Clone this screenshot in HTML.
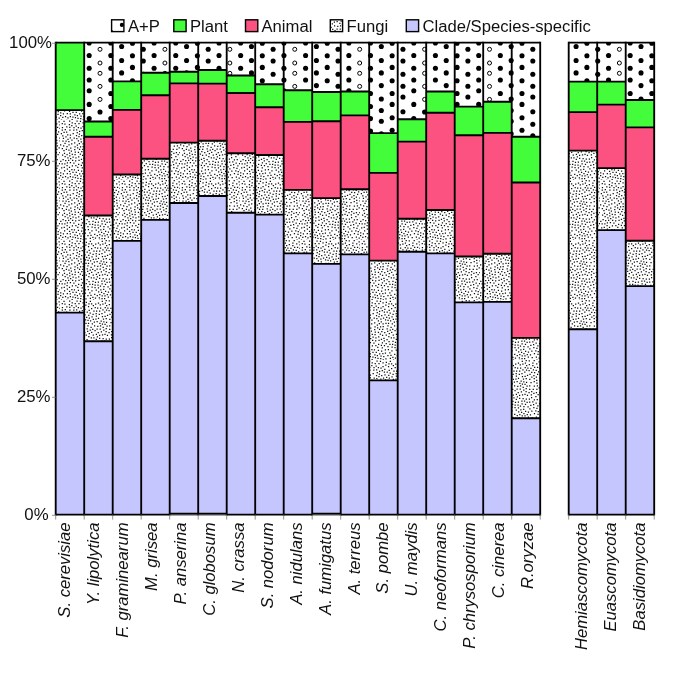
<!DOCTYPE html><html><head><meta charset="utf-8"><style>html,body{margin:0;padding:0;background:#fff;}svg{display:block;will-change:transform;}text{font-family:"Liberation Sans",sans-serif;}</style></head><body>
<svg width="685" height="685" viewBox="0 0 685 685">
<rect width="685" height="685" fill="#fff"/>
<defs>
<pattern id="stip" patternUnits="userSpaceOnUse" width="60" height="60"><rect width="60" height="60" fill="#fff"/><path d="M37.37 44.51h1.25v1.25h-1.25zM47.71 56.55h1.25v1.25h-1.25zM44.39 55.34h1.25v1.25h-1.25zM1.74 27.94h1.25v1.25h-1.25zM56.6 38.94h1.25v1.25h-1.25zM54.05 6.79h1.25v1.25h-1.25zM28.14 14.79h1.25v1.25h-1.25zM32.63 34.44h1.25v1.25h-1.25zM0.79 13h1.25v1.25h-1.25zM16.77 54.98h1.25v1.25h-1.25zM45.94 9.58h1.25v1.25h-1.25zM37.05 7.6h1.25v1.25h-1.25zM0.11 52.28h1.25v1.25h-1.25zM12.57 12.93h1.25v1.25h-1.25zM17.36 57.69h1.25v1.25h-1.25zM32.35 40.67h1.25v1.25h-1.25zM12.29 56.46h1.25v1.25h-1.25zM41.44 57.99h1.25v1.25h-1.25zM53.62 17.93h1.25v1.25h-1.25zM21.67 9.96h1.25v1.25h-1.25zM8.74 3.91h1.25v1.25h-1.25zM18.08 36.19h1.25v1.25h-1.25zM0.2 40.68h1.25v1.25h-1.25zM20.27 18.6h1.25v1.25h-1.25zM49.11 28.84h1.25v1.25h-1.25zM18.95 28.87h1.25v1.25h-1.25zM42.28 3.42h1.25v1.25h-1.25zM58.51 1.37h1.25v1.25h-1.25zM44.99 50.69h1.25v1.25h-1.25zM1.08 47.26h1.25v1.25h-1.25zM21.97 34.71h1.25v1.25h-1.25zM11.79 45.34h1.25v1.25h-1.25zM55.78 56.52h1.25v1.25h-1.25zM20.66 21.29h1.25v1.25h-1.25zM31.48 46.54h1.25v1.25h-1.25zM6.48 44.9h1.25v1.25h-1.25zM47.83 51.58h1.25v1.25h-1.25zM2.2 56.75h1.25v1.25h-1.25zM5.47 20.44h1.25v1.25h-1.25zM36.65 55.09h1.25v1.25h-1.25zM20.4 55.45h1.25v1.25h-1.25zM32.71 18.75h1.25v1.25h-1.25zM19.01 10.65h1.25v1.25h-1.25zM4.69 8.93h1.25v1.25h-1.25zM59.2 32.01h1.25v1.25h-1.25zM24.35 14.24h1.25v1.25h-1.25zM35.64 49.58h1.25v1.25h-1.25zM27.34 25.31h1.25v1.25h-1.25zM50.31 7.83h1.25v1.25h-1.25zM37.82 47.28h1.25v1.25h-1.25zM6.4 26.07h1.25v1.25h-1.25zM8.95 50.68h1.25v1.25h-1.25zM58.56 27.21h1.25v1.25h-1.25zM29.29 43.77h1.25v1.25h-1.25zM28.74 17.46h1.25v1.25h-1.25zM24.23 8.79h1.25v1.25h-1.25zM22.62 59.3h1.25v1.25h-1.25zM29.96 20.31h1.25v1.25h-1.25zM5.35 16.34h1.25v1.25h-1.25zM21.68 47.16h1.25v1.25h-1.25zM46.49 41.68h1.25v1.25h-1.25zM39.84 45.58h1.25v1.25h-1.25zM21.81 42.27h1.25v1.25h-1.25zM38.98 34.84h1.25v1.25h-1.25zM15.04 40.3h1.25v1.25h-1.25zM27.78 49h1.25v1.25h-1.25zM20.87 38.64h1.25v1.25h-1.25zM21 50.57h1.25v1.25h-1.25zM52.19 41.3h1.25v1.25h-1.25zM58.57 57.39h1.25v1.25h-1.25zM31.09 31.76h1.25v1.25h-1.25zM56.24 28.63h1.25v1.25h-1.25zM41.49 43.18h1.25v1.25h-1.25zM46.82 34.85h1.25v1.25h-1.25zM39.93 25.25h1.25v1.25h-1.25zM1.66 9.6h1.25v1.25h-1.25zM26.46 39.01h1.25v1.25h-1.25zM37.85 2.51h1.25v1.25h-1.25zM11.6 2.14h1.25v1.25h-1.25zM27.92 22.82h1.25v1.25h-1.25zM14.27 54.19h1.25v1.25h-1.25zM0.04 24.32h1.25v1.25h-1.25zM16.71 24.6h1.25v1.25h-1.25zM22.43 2.16h1.25v1.25h-1.25zM34.85 57.5h1.25v1.25h-1.25zM49.11 25.15h1.25v1.25h-1.25zM48.78 38.54h1.25v1.25h-1.25zM35.76 33.83h1.25v1.25h-1.25zM36.52 21.07h1.25v1.25h-1.25zM53.61 0.06h1.25v1.25h-1.25zM6.48 33.95h1.25v1.25h-1.25zM22.55 25.9h1.25v1.25h-1.25zM13.58 17.49h1.25v1.25h-1.25zM35.75 15.59h1.25v1.25h-1.25zM24.93 19.15h1.25v1.25h-1.25zM7.31 37.3h1.25v1.25h-1.25zM46.91 14.74h1.25v1.25h-1.25zM16.06 9.29h1.25v1.25h-1.25zM59.33 17.59h1.25v1.25h-1.25zM36.48 28.48h1.25v1.25h-1.25zM44.61 7.09h1.25v1.25h-1.25zM45.62 18.04h1.25v1.25h-1.25zM17.81 31.79h1.25v1.25h-1.25zM2.19 15.15h1.25v1.25h-1.25zM27.34 54.99h1.25v1.25h-1.25zM53.28 32.74h1.25v1.25h-1.25zM25.66 34.54h1.25v1.25h-1.25zM42.49 37.93h1.25v1.25h-1.25zM51.11 11.79h1.25v1.25h-1.25zM17.79 49.8h1.25v1.25h-1.25zM3.96 50.18h1.25v1.25h-1.25zM17.18 46.84h1.25v1.25h-1.25zM28.7 32.95h1.25v1.25h-1.25zM9.21 35.15h1.25v1.25h-1.25zM48.71 4.11h1.25v1.25h-1.25zM13.8 49.18h1.25v1.25h-1.25zM1.53 43.36h1.25v1.25h-1.25zM38.74 57.13h1.25v1.25h-1.25zM4.32 3.45h1.25v1.25h-1.25zM34.52 44.54h1.25v1.25h-1.25zM56.31 22.45h1.25v1.25h-1.25zM30.35 54.63h1.25v1.25h-1.25zM33.29 37.25h1.25v1.25h-1.25zM15.25 45.03h1.25v1.25h-1.25zM31.02 8.03h1.25v1.25h-1.25zM14.07 22.27h1.25v1.25h-1.25zM5.11 40.08h1.25v1.25h-1.25zM52.62 28.83h1.25v1.25h-1.25zM13.39 6.96h1.25v1.25h-1.25zM51.09 31.05h1.25v1.25h-1.25zM44.41 23.73h1.25v1.25h-1.25zM45.62 0.03h1.25v1.25h-1.25zM37.17 25.72h1.25v1.25h-1.25zM27.93 5.98h1.25v1.25h-1.25zM9.28 9.54h1.25v1.25h-1.25zM22.48 23.14h1.25v1.25h-1.25zM52.82 9.13h1.25v1.25h-1.25zM9.69 17.22h1.25v1.25h-1.25zM14.11 28.92h1.25v1.25h-1.25zM41.26 40.43h1.25v1.25h-1.25zM9.8 14.43h1.25v1.25h-1.25zM3.65 46.76h1.25v1.25h-1.25zM32.9 59.38h1.25v1.25h-1.25zM56.14 3.23h1.25v1.25h-1.25zM14.61 3.03h1.25v1.25h-1.25zM18.36 3.08h1.25v1.25h-1.25zM10.76 30.52h1.25v1.25h-1.25zM24.14 31.88h1.25v1.25h-1.25zM55.28 35.9h1.25v1.25h-1.25zM49.17 18.77h1.25v1.25h-1.25zM22.43 5.91h1.25v1.25h-1.25zM53.77 39.25h1.25v1.25h-1.25zM1.65 3.04h1.25v1.25h-1.25zM51.59 56.95h1.25v1.25h-1.25zM19.82 0.75h1.25v1.25h-1.25zM42.57 26.77h1.25v1.25h-1.25zM56.31 47.69h1.25v1.25h-1.25zM1.97 34.62h1.25v1.25h-1.25zM16.62 12.07h1.25v1.25h-1.25zM33.75 21.42h1.25v1.25h-1.25zM21.11 14.89h1.25v1.25h-1.25zM50.99 37.09h1.25v1.25h-1.25zM54.01 11.96h1.25v1.25h-1.25zM40.97 51.79h1.25v1.25h-1.25zM11.08 23.35h1.25v1.25h-1.25zM18.72 22.97h1.25v1.25h-1.25zM40.77 31.33h1.25v1.25h-1.25zM42.87 18.41h1.25v1.25h-1.25zM55.75 16.48h1.25v1.25h-1.25zM57.41 53.83h1.25v1.25h-1.25zM39.19 53.97h1.25v1.25h-1.25zM18.33 16.06h1.25v1.25h-1.25zM10.05 37.97h1.25v1.25h-1.25zM57.99 11.23h1.25v1.25h-1.25zM1.83 6.94h1.25v1.25h-1.25zM35.67 38.78h1.25v1.25h-1.25zM6.05 11.61h1.25v1.25h-1.25zM6.2 6.17h1.25v1.25h-1.25zM29.73 57.76h1.25v1.25h-1.25zM17.76 7.01h1.25v1.25h-1.25zM22.93 17.44h1.25v1.25h-1.25zM17.76 20.22h1.25v1.25h-1.25zM3.02 25.25h1.25v1.25h-1.25zM5.76 28.65h1.25v1.25h-1.25zM23.18 56.03h1.25v1.25h-1.25zM48.65 0.31h1.25v1.25h-1.25zM45.95 21.66h1.25v1.25h-1.25zM31.01 3.19h1.25v1.25h-1.25zM26.56 28.31h1.25v1.25h-1.25zM24.8 52.45h1.25v1.25h-1.25zM8.89 46.86h1.25v1.25h-1.25zM25.33 58.33h1.25v1.25h-1.25zM39.99 7.4h1.25v1.25h-1.25zM10.15 27.46h1.25v1.25h-1.25zM4.43 22.87h1.25v1.25h-1.25zM53.84 53.12h1.25v1.25h-1.25zM22.12 28.66h1.25v1.25h-1.25zM14.45 34.12h1.25v1.25h-1.25zM3.36 30.03h1.25v1.25h-1.25zM31.72 23.32h1.25v1.25h-1.25zM8.28 21.06h1.25v1.25h-1.25zM44.47 15.73h1.25v1.25h-1.25zM23.32 37.73h1.25v1.25h-1.25zM44.38 33.67h1.25v1.25h-1.25zM52.28 2.39h1.25v1.25h-1.25zM56.94 6.66h1.25v1.25h-1.25zM45.49 30.95h1.25v1.25h-1.25zM39.04 10.49h1.25v1.25h-1.25zM8.33 29.47h1.25v1.25h-1.25zM34.44 30.01h1.25v1.25h-1.25zM6.16 59.85h1.25v1.25h-1.25zM9.79 41.92h1.25v1.25h-1.25zM40.55 20.39h1.25v1.25h-1.25zM47.45 46.29h1.25v1.25h-1.25zM32.11 28.72h1.25v1.25h-1.25zM38.68 13.74h1.25v1.25h-1.25zM16.43 0.61h1.25v1.25h-1.25zM3.41 0.87h1.25v1.25h-1.25zM18 43.73h1.25v1.25h-1.25zM41.35 13.02h1.25v1.25h-1.25zM27.34 46.06h1.25v1.25h-1.25zM26.6 11.45h1.25v1.25h-1.25zM50.42 21.94h1.25v1.25h-1.25zM9.03 0.41h1.25v1.25h-1.25zM49.37 13.78h1.25v1.25h-1.25zM50.75 34.18h1.25v1.25h-1.25zM51.2 50.5h1.25v1.25h-1.25zM6.68 53.12h1.25v1.25h-1.25zM44.85 43.63h1.25v1.25h-1.25zM15.32 37.17h1.25v1.25h-1.25zM9.74 56.05h1.25v1.25h-1.25zM11.51 59.06h1.25v1.25h-1.25zM55.22 50.14h1.25v1.25h-1.25zM43.19 29.46h1.25v1.25h-1.25zM50.22 44.66h1.25v1.25h-1.25zM38.06 51.3h1.25v1.25h-1.25zM29.23 52.29h1.25v1.25h-1.25zM37.75 41.45h1.25v1.25h-1.25zM31.32 50.33h1.25v1.25h-1.25zM28.22 36.06h1.25v1.25h-1.25zM55.53 42.47h1.25v1.25h-1.25zM43.33 45.92h1.25v1.25h-1.25zM29.61 29.61h1.25v1.25h-1.25zM34.1 53.78h1.25v1.25h-1.25zM31.43 16.14h1.25v1.25h-1.25zM53.71 25.46h1.25v1.25h-1.25zM59.82 37.28h1.25v1.25h-1.25zM29.57 12.57h1.25v1.25h-1.25zM2.76 53.33h1.25v1.25h-1.25zM7.35 57.33h1.25v1.25h-1.25zM34.57 6.88h1.25v1.25h-1.25zM39.06 37.68h1.25v1.25h-1.25zM48.44 31.99h1.25v1.25h-1.25zM56.11 19.69h1.25v1.25h-1.25zM59.43 20.35h1.25v1.25h-1.25zM28.44 41.04h1.25v1.25h-1.25zM25.74 1.87h1.25v1.25h-1.25zM36.17 59.96h1.25v1.25h-1.25zM18.45 39.85h1.25v1.25h-1.25zM25.37 22.79h1.25v1.25h-1.25zM33.33 10.59h1.25v1.25h-1.25zM42.32 9.18h1.25v1.25h-1.25zM40.24 49.18h1.25v1.25h-1.25zM53.3 14.93h1.25v1.25h-1.25zM41.84 15.92h1.25v1.25h-1.25zM53.21 46.93h1.25v1.25h-1.25zM57 13.85h1.25v1.25h-1.25zM35.1 3.39h1.25v1.25h-1.25zM15.89 15.05h1.25v1.25h-1.25zM9.13 6.83h1.25v1.25h-1.25zM24.75 49.23h1.25v1.25h-1.25zM32.47 13.69h1.25v1.25h-1.25zM23.83 44.93h1.25v1.25h-1.25zM12.35 51.8h1.25v1.25h-1.25zM33.97 25.18h1.25v1.25h-1.25zM45.64 38.5h1.25v1.25h-1.25zM29.72 0.67h1.25v1.25h-1.25zM37.86 17.63h1.25v1.25h-1.25zM39.61 28.5h1.25v1.25h-1.25zM28.61 9.84h1.25v1.25h-1.25zM57.26 45.29h1.25v1.25h-1.25zM14.45 26.29h1.25v1.25h-1.25zM52.99 44.04h1.25v1.25h-1.25zM30.72 37.13h1.25v1.25h-1.25zM6.74 48.62h1.25v1.25h-1.25zM56.81 25.18h1.25v1.25h-1.25zM25.64 43.05h1.25v1.25h-1.25zM7.37 18.64h1.25v1.25h-1.25zM59.37 4.24h1.25v1.25h-1.25zM39.14 59.78h1.25v1.25h-1.25zM2.34 20.45h1.25v1.25h-1.25zM15.64 51.69h1.25v1.25h-1.25zM39.26 22.63h1.25v1.25h-1.25zM11.24 49.05h1.25v1.25h-1.25zM44.77 2.55h1.25v1.25h-1.25zM55.58 9.65h1.25v1.25h-1.25zM45.58 28.05h1.25v1.25h-1.25zM36 10.45h1.25v1.25h-1.25zM37.62 32.02h1.25v1.25h-1.25zM49.24 48.37h1.25v1.25h-1.25zM14.67 31.58h1.25v1.25h-1.25zM8.99 32.47h1.25v1.25h-1.25zM11.3 19.61h1.25v1.25h-1.25zM59.51 49.28h1.25v1.25h-1.25zM30.48 26.67h1.25v1.25h-1.25zM13.21 9.51h1.25v1.25h-1.25zM48.48 9.92h1.25v1.25h-1.25zM39.65 4.36h1.25v1.25h-1.25zM12.04 39.7h1.25v1.25h-1.25zM49.84 54.24h1.25v1.25h-1.25zM55.81 31.91h1.25v1.25h-1.25zM4.52 35.9h1.25v1.25h-1.25zM27.07 30.87h1.25v1.25h-1.25zM51.21 16.55h1.25v1.25h-1.25zM25.23 4.48h1.25v1.25h-1.25zM56.41 59.5h1.25v1.25h-1.25zM44.18 11.46h1.25v1.25h-1.25zM11.66 33.75h1.25v1.25h-1.25zM13.29 42.51h1.25v1.25h-1.25zM52.23 4.95h1.25v1.25h-1.25zM8.04 39.83h1.25v1.25h-1.25zM13.94 59.91h1.25v1.25h-1.25zM4.92 55.95h1.25v1.25h-1.25zM46.06 4.88h1.25v1.25h-1.25zM11.21 4.93h1.25v1.25h-1.25zM47.25 7.38h1.25v1.25h-1.25zM19.04 53.26h1.25v1.25h-1.25zM43.24 21.35h1.25v1.25h-1.25zM43.07 48.7h1.25v1.25h-1.25zM53.62 21h1.25v1.25h-1.25zM19.95 26.14h1.25v1.25h-1.25zM8.43 24.29h1.25v1.25h-1.25zM35.32 18.45h1.25v1.25h-1.25zM23.69 40.35h1.25v1.25h-1.25zM34.86 41.83h1.25v1.25h-1.25zM4.24 43.37h1.25v1.25h-1.25zM0.02 54.91h1.25v1.25h-1.25zM57.5 33.97h1.25v1.25h-1.25zM21.19 31.04h1.25v1.25h-1.25zM34.42 47.11h1.25v1.25h-1.25zM41.68 0.81h1.25v1.25h-1.25zM9.67 53.24h1.25v1.25h-1.25zM43.93 40.55h1.25v1.25h-1.25zM41.59 55.32h1.25v1.25h-1.25zM20.77 44.76h1.25v1.25h-1.25zM3.47 11.79h1.25v1.25h-1.25zM44 57.94h1.25v1.25h-1.25zM49.07 41.5h1.25v1.25h-1.25zM2.5 39.09h1.25v1.25h-1.25zM41.91 34.33h1.25v1.25h-1.25zM12.46 36.42h1.25v1.25h-1.25zM32.26 56.87h1.25v1.25h-1.25zM19.71 33.52h1.25v1.25h-1.25zM0.87 59.58h1.25v1.25h-1.25zM32.74 5.07h1.25v1.25h-1.25zM23.76 11.44h1.25v1.25h-1.25zM59.39 7.82h1.25v1.25h-1.25zM20.14 58.11h1.25v1.25h-1.25zM3.89 32.73h1.25v1.25h-1.25zM2.82 17.67h1.25v1.25h-1.25zM46.48 25.53h1.25v1.25h-1.25zM22.23 52.97h1.25v1.25h-1.25zM26.07 16.68h1.25v1.25h-1.25zM7.1 14.37h1.25v1.25h-1.25zM43.35 52.94h1.25v1.25h-1.25zM16.22 18.1h1.25v1.25h-1.25zM28.34 3.18h1.25v1.25h-1.25zM36.76 36.32h1.25v1.25h-1.25zM35.56 12.99h1.25v1.25h-1.25zM41.82 23.52h1.25v1.25h-1.25zM27.42 19.83h1.25v1.25h-1.25zM57.64 51.06h1.25v1.25h-1.25zM14.82 57.06h1.25v1.25h-1.25zM6.77 42.33h1.25v1.25h-1.25zM15.59 5.6h1.25v1.25h-1.25zM20.38 7.53h1.25v1.25h-1.25zM32.03 43.73h1.25v1.25h-1.25zM46.66 53.97h1.25v1.25h-1.25zM17.02 27.19h1.25v1.25h-1.25zM18.81 13.48h1.25v1.25h-1.25zM58.94 43h1.25v1.25h-1.25z" fill="#111"/></pattern>
<clipPath id="apc"><rect x="84.2" y="42.6" width="28.5" height="78.9"/><rect x="112.7" y="42.6" width="28.5" height="38.8"/><rect x="141.2" y="42.6" width="28.5" height="30.1"/><rect x="169.7" y="42.6" width="28.5" height="29.2"/><rect x="198.2" y="42.6" width="28.5" height="27.4"/><rect x="226.7" y="42.6" width="28.5" height="32.9"/><rect x="255.2" y="42.6" width="28.5" height="41.7"/><rect x="283.7" y="42.6" width="28.5" height="47.6"/><rect x="312.2" y="42.6" width="28.5" height="49.4"/><rect x="340.7" y="42.6" width="28.5" height="48.9"/><rect x="369.2" y="42.6" width="28.5" height="90.5"/><rect x="397.7" y="42.6" width="28.5" height="76.7"/><rect x="426.2" y="42.6" width="28.5" height="48.9"/><rect x="454.7" y="42.6" width="28.5" height="64"/><rect x="483.2" y="42.6" width="28.5" height="59.2"/><rect x="511.7" y="42.6" width="28.5" height="94.2"/><rect x="568.7" y="42.6" width="28.5" height="39"/><rect x="597.2" y="42.6" width="28.5" height="39"/><rect x="625.7" y="42.6" width="28.5" height="57.4"/></clipPath>
</defs>
<rect x="55.7" y="42.6" width="28.5" height="67.5" fill="#43fd3a"/>
<rect x="55.7" y="110.1" width="28.5" height="202.5" fill="url(#stip)"/>
<rect x="55.7" y="312.6" width="28.5" height="202" fill="#c6c6fe"/>
<rect x="84.2" y="42.6" width="28.5" height="78.9" fill="#fff"/>
<rect x="84.2" y="121.5" width="28.5" height="15.3" fill="#43fd3a"/>
<rect x="84.2" y="136.8" width="28.5" height="78.7" fill="#fc5282"/>
<rect x="84.2" y="215.5" width="28.5" height="125.7" fill="url(#stip)"/>
<rect x="84.2" y="341.2" width="28.5" height="173.4" fill="#c6c6fe"/>
<rect x="112.7" y="42.6" width="28.5" height="38.8" fill="#fff"/>
<rect x="112.7" y="81.4" width="28.5" height="28.5" fill="#43fd3a"/>
<rect x="112.7" y="109.9" width="28.5" height="64.6" fill="#fc5282"/>
<rect x="112.7" y="174.5" width="28.5" height="66.4" fill="url(#stip)"/>
<rect x="112.7" y="240.9" width="28.5" height="273.7" fill="#c6c6fe"/>
<rect x="141.2" y="42.6" width="28.5" height="30.1" fill="#fff"/>
<rect x="141.2" y="72.7" width="28.5" height="22.5" fill="#43fd3a"/>
<rect x="141.2" y="95.2" width="28.5" height="63.5" fill="#fc5282"/>
<rect x="141.2" y="158.7" width="28.5" height="61.2" fill="url(#stip)"/>
<rect x="141.2" y="219.9" width="28.5" height="294.7" fill="#c6c6fe"/>
<rect x="169.7" y="42.6" width="28.5" height="29.2" fill="#fff"/>
<rect x="169.7" y="71.8" width="28.5" height="11.6" fill="#43fd3a"/>
<rect x="169.7" y="83.4" width="28.5" height="59.2" fill="#fc5282"/>
<rect x="169.7" y="142.6" width="28.5" height="60.4" fill="url(#stip)"/>
<rect x="169.7" y="203" width="28.5" height="310.7" fill="#c6c6fe"/>
<rect x="198.2" y="42.6" width="28.5" height="27.4" fill="#fff"/>
<rect x="198.2" y="70" width="28.5" height="13.6" fill="#43fd3a"/>
<rect x="198.2" y="83.6" width="28.5" height="57.2" fill="#fc5282"/>
<rect x="198.2" y="140.8" width="28.5" height="55.2" fill="url(#stip)"/>
<rect x="198.2" y="196" width="28.5" height="317.7" fill="#c6c6fe"/>
<rect x="226.7" y="42.6" width="28.5" height="32.9" fill="#fff"/>
<rect x="226.7" y="75.5" width="28.5" height="17.5" fill="#43fd3a"/>
<rect x="226.7" y="93" width="28.5" height="60.2" fill="#fc5282"/>
<rect x="226.7" y="153.2" width="28.5" height="59.6" fill="url(#stip)"/>
<rect x="226.7" y="212.8" width="28.5" height="301.8" fill="#c6c6fe"/>
<rect x="255.2" y="42.6" width="28.5" height="41.7" fill="#fff"/>
<rect x="255.2" y="84.3" width="28.5" height="23" fill="#43fd3a"/>
<rect x="255.2" y="107.3" width="28.5" height="47.7" fill="#fc5282"/>
<rect x="255.2" y="155" width="28.5" height="59.6" fill="url(#stip)"/>
<rect x="255.2" y="214.6" width="28.5" height="300" fill="#c6c6fe"/>
<rect x="283.7" y="42.6" width="28.5" height="47.6" fill="#fff"/>
<rect x="283.7" y="90.2" width="28.5" height="31.7" fill="#43fd3a"/>
<rect x="283.7" y="121.9" width="28.5" height="68" fill="#fc5282"/>
<rect x="283.7" y="189.9" width="28.5" height="63.5" fill="url(#stip)"/>
<rect x="283.7" y="253.4" width="28.5" height="261.2" fill="#c6c6fe"/>
<rect x="312.2" y="42.6" width="28.5" height="49.4" fill="#fff"/>
<rect x="312.2" y="92" width="28.5" height="29.2" fill="#43fd3a"/>
<rect x="312.2" y="121.2" width="28.5" height="76.9" fill="#fc5282"/>
<rect x="312.2" y="198.1" width="28.5" height="65.8" fill="url(#stip)"/>
<rect x="312.2" y="263.9" width="28.5" height="249.8" fill="#c6c6fe"/>
<rect x="340.7" y="42.6" width="28.5" height="48.9" fill="#fff"/>
<rect x="340.7" y="91.5" width="28.5" height="23.9" fill="#43fd3a"/>
<rect x="340.7" y="115.4" width="28.5" height="73.8" fill="#fc5282"/>
<rect x="340.7" y="189.2" width="28.5" height="65.2" fill="url(#stip)"/>
<rect x="340.7" y="254.4" width="28.5" height="260.2" fill="#c6c6fe"/>
<rect x="369.2" y="42.6" width="28.5" height="90.5" fill="#fff"/>
<rect x="369.2" y="133.1" width="28.5" height="39.8" fill="#43fd3a"/>
<rect x="369.2" y="172.9" width="28.5" height="87.7" fill="#fc5282"/>
<rect x="369.2" y="260.6" width="28.5" height="119.8" fill="url(#stip)"/>
<rect x="369.2" y="380.4" width="28.5" height="134.2" fill="#c6c6fe"/>
<rect x="397.7" y="42.6" width="28.5" height="76.7" fill="#fff"/>
<rect x="397.7" y="119.3" width="28.5" height="22.3" fill="#43fd3a"/>
<rect x="397.7" y="141.6" width="28.5" height="77.2" fill="#fc5282"/>
<rect x="397.7" y="218.8" width="28.5" height="33" fill="url(#stip)"/>
<rect x="397.7" y="251.8" width="28.5" height="262.8" fill="#c6c6fe"/>
<rect x="426.2" y="42.6" width="28.5" height="48.9" fill="#fff"/>
<rect x="426.2" y="91.5" width="28.5" height="21.2" fill="#43fd3a"/>
<rect x="426.2" y="112.7" width="28.5" height="97.3" fill="#fc5282"/>
<rect x="426.2" y="210" width="28.5" height="43.4" fill="url(#stip)"/>
<rect x="426.2" y="253.4" width="28.5" height="261.2" fill="#c6c6fe"/>
<rect x="454.7" y="42.6" width="28.5" height="64" fill="#fff"/>
<rect x="454.7" y="106.6" width="28.5" height="28.7" fill="#43fd3a"/>
<rect x="454.7" y="135.3" width="28.5" height="121.2" fill="#fc5282"/>
<rect x="454.7" y="256.5" width="28.5" height="45.9" fill="url(#stip)"/>
<rect x="454.7" y="302.4" width="28.5" height="212.2" fill="#c6c6fe"/>
<rect x="483.2" y="42.6" width="28.5" height="59.2" fill="#fff"/>
<rect x="483.2" y="101.8" width="28.5" height="31.1" fill="#43fd3a"/>
<rect x="483.2" y="132.9" width="28.5" height="120.8" fill="#fc5282"/>
<rect x="483.2" y="253.7" width="28.5" height="48.2" fill="url(#stip)"/>
<rect x="483.2" y="301.9" width="28.5" height="212.7" fill="#c6c6fe"/>
<rect x="511.7" y="42.6" width="28.5" height="94.2" fill="#fff"/>
<rect x="511.7" y="136.8" width="28.5" height="45.7" fill="#43fd3a"/>
<rect x="511.7" y="182.5" width="28.5" height="155.4" fill="#fc5282"/>
<rect x="511.7" y="337.9" width="28.5" height="80.3" fill="url(#stip)"/>
<rect x="511.7" y="418.2" width="28.5" height="96.4" fill="#c6c6fe"/>
<rect x="568.7" y="42.6" width="28.5" height="39" fill="#fff"/>
<rect x="568.7" y="81.6" width="28.5" height="30.5" fill="#43fd3a"/>
<rect x="568.7" y="112.1" width="28.5" height="38.5" fill="#fc5282"/>
<rect x="568.7" y="150.6" width="28.5" height="178.7" fill="url(#stip)"/>
<rect x="568.7" y="329.3" width="28.5" height="185.3" fill="#c6c6fe"/>
<rect x="597.2" y="42.6" width="28.5" height="39" fill="#fff"/>
<rect x="597.2" y="81.6" width="28.5" height="23" fill="#43fd3a"/>
<rect x="597.2" y="104.6" width="28.5" height="63.5" fill="#fc5282"/>
<rect x="597.2" y="168.1" width="28.5" height="62" fill="url(#stip)"/>
<rect x="597.2" y="230.1" width="28.5" height="284.5" fill="#c6c6fe"/>
<rect x="625.7" y="42.6" width="28.5" height="57.4" fill="#fff"/>
<rect x="625.7" y="100" width="28.5" height="27.4" fill="#43fd3a"/>
<rect x="625.7" y="127.4" width="28.5" height="113.3" fill="#fc5282"/>
<rect x="625.7" y="240.7" width="28.5" height="45.4" fill="url(#stip)"/>
<rect x="625.7" y="286.1" width="28.5" height="228.5" fill="#c6c6fe"/>
<g clip-path="url(#apc)"><circle cx="56.72" cy="34" r="2.55"/><circle cx="56.72" cy="46.5" r="2.55"/><circle cx="56.72" cy="60.5" r="2.55"/><circle cx="56.72" cy="72.9" r="2.55"/><circle cx="56.72" cy="85.6" r="2.55"/><circle cx="56.72" cy="99" r="2.55"/><circle cx="56.72" cy="110.5" r="2.55"/><circle cx="56.72" cy="121.3" r="2.55"/><circle cx="56.72" cy="133.8" r="2.55"/><circle cx="67.54" cy="43.2" r="2.55"/><circle cx="67.54" cy="55.7" r="2.55"/><circle cx="67.54" cy="67.4" r="2.55"/><circle cx="67.54" cy="80.8" r="2.55"/><circle cx="67.54" cy="93.5" r="2.55"/><circle cx="67.54" cy="104.4" r="2.55"/><circle cx="67.54" cy="117.7" r="2.55"/><circle cx="67.54" cy="130.2" r="2.55"/><circle cx="67.54" cy="142.6" r="2.55"/><circle cx="78.36" cy="36.7" r="2.55"/><circle cx="78.36" cy="49.2" r="2.55"/><circle cx="78.36" cy="61" r="2.55"/><circle cx="78.36" cy="74.3" r="2.55"/><circle cx="78.36" cy="86.2" r="2.55"/><circle cx="78.36" cy="97" r="2.55"/><circle cx="78.36" cy="111.7" r="2.55"/><circle cx="78.36" cy="124.3" r="2.55"/><circle cx="78.36" cy="135.7" r="2.55"/><circle cx="89.18" cy="43" r="2.55"/><circle cx="89.18" cy="55.5" r="2.55"/><circle cx="89.18" cy="68.3" r="2.55"/><circle cx="89.18" cy="80" r="2.55"/><circle cx="89.18" cy="90.8" r="2.55"/><circle cx="89.18" cy="104.4" r="2.55"/><circle cx="89.18" cy="118.6" r="2.55"/><circle cx="89.18" cy="131" r="2.55"/><circle cx="89.18" cy="143.5" r="2.55"/><circle cx="100" cy="36.8" r="2.55"/><circle cx="100" cy="49.3" r="2.0" fill="#fff" stroke="#000" stroke-width="1.0"/><circle cx="100" cy="63" r="2.0" fill="#fff" stroke="#000" stroke-width="1.0"/><circle cx="100" cy="73.3" r="2.0" fill="#fff" stroke="#000" stroke-width="1.0"/><circle cx="100" cy="86.4" r="2.0" fill="#fff" stroke="#000" stroke-width="1.0"/><circle cx="100" cy="99.4" r="2.0" fill="#fff" stroke="#000" stroke-width="1.0"/><circle cx="100" cy="112" r="2.55"/><circle cx="100" cy="124.5" r="2.55"/><circle cx="100" cy="137" r="2.55"/><circle cx="110.82" cy="43" r="2.55"/><circle cx="110.82" cy="55.5" r="2.55"/><circle cx="110.82" cy="68.3" r="2.55"/><circle cx="110.82" cy="80" r="2.55"/><circle cx="110.82" cy="93.5" r="2.55"/><circle cx="110.82" cy="106.5" r="2.55"/><circle cx="110.82" cy="118.6" r="2.55"/><circle cx="110.82" cy="131" r="2.55"/><circle cx="110.82" cy="143.5" r="2.55"/><circle cx="121.64" cy="34" r="2.55"/><circle cx="121.64" cy="46.5" r="2.55"/><circle cx="121.64" cy="60.5" r="2.55"/><circle cx="121.64" cy="72.9" r="2.55"/><circle cx="121.64" cy="85.6" r="2.55"/><circle cx="121.64" cy="99" r="2.55"/><circle cx="121.64" cy="110.5" r="2.55"/><circle cx="121.64" cy="121.3" r="2.55"/><circle cx="121.64" cy="133.8" r="2.55"/><circle cx="132.46" cy="43.2" r="2.55"/><circle cx="132.46" cy="55.7" r="2.55"/><circle cx="132.46" cy="67.4" r="2.55"/><circle cx="132.46" cy="80.8" r="2.55"/><circle cx="132.46" cy="93.5" r="2.55"/><circle cx="132.46" cy="104.4" r="2.55"/><circle cx="132.46" cy="117.7" r="2.55"/><circle cx="132.46" cy="130.2" r="2.55"/><circle cx="132.46" cy="142.6" r="2.55"/><circle cx="143.28" cy="36.7" r="2.55"/><circle cx="143.28" cy="49.2" r="2.55"/><circle cx="143.28" cy="61" r="2.55"/><circle cx="143.28" cy="74.3" r="2.55"/><circle cx="143.28" cy="86.2" r="2.55"/><circle cx="143.28" cy="97" r="2.55"/><circle cx="143.28" cy="111.7" r="2.55"/><circle cx="143.28" cy="124.3" r="2.55"/><circle cx="143.28" cy="135.7" r="2.55"/><circle cx="154.1" cy="43" r="2.55"/><circle cx="154.1" cy="55.5" r="2.55"/><circle cx="154.1" cy="68.3" r="2.55"/><circle cx="154.1" cy="80" r="2.55"/><circle cx="154.1" cy="90.8" r="2.55"/><circle cx="154.1" cy="104.4" r="2.55"/><circle cx="154.1" cy="118.6" r="2.55"/><circle cx="154.1" cy="131" r="2.55"/><circle cx="154.1" cy="143.5" r="2.55"/><circle cx="164.92" cy="36.8" r="2.55"/><circle cx="164.92" cy="49.3" r="2.0" fill="#fff" stroke="#000" stroke-width="1.0"/><circle cx="164.92" cy="63" r="2.0" fill="#fff" stroke="#000" stroke-width="1.0"/><circle cx="164.92" cy="73.3" r="2.0" fill="#fff" stroke="#000" stroke-width="1.0"/><circle cx="164.92" cy="86.4" r="2.0" fill="#fff" stroke="#000" stroke-width="1.0"/><circle cx="164.92" cy="99.4" r="2.0" fill="#fff" stroke="#000" stroke-width="1.0"/><circle cx="164.92" cy="112" r="2.55"/><circle cx="164.92" cy="124.5" r="2.55"/><circle cx="164.92" cy="137" r="2.55"/><circle cx="175.74" cy="43" r="2.55"/><circle cx="175.74" cy="55.5" r="2.55"/><circle cx="175.74" cy="68.3" r="2.55"/><circle cx="175.74" cy="80" r="2.55"/><circle cx="175.74" cy="93.5" r="2.55"/><circle cx="175.74" cy="106.5" r="2.55"/><circle cx="175.74" cy="118.6" r="2.55"/><circle cx="175.74" cy="131" r="2.55"/><circle cx="175.74" cy="143.5" r="2.55"/><circle cx="186.56" cy="34" r="2.55"/><circle cx="186.56" cy="46.5" r="2.55"/><circle cx="186.56" cy="60.5" r="2.55"/><circle cx="186.56" cy="72.9" r="2.55"/><circle cx="186.56" cy="85.6" r="2.55"/><circle cx="186.56" cy="99" r="2.55"/><circle cx="186.56" cy="110.5" r="2.55"/><circle cx="186.56" cy="121.3" r="2.55"/><circle cx="186.56" cy="133.8" r="2.55"/><circle cx="197.38" cy="43.2" r="2.55"/><circle cx="197.38" cy="55.7" r="2.55"/><circle cx="197.38" cy="67.4" r="2.55"/><circle cx="197.38" cy="80.8" r="2.55"/><circle cx="197.38" cy="93.5" r="2.55"/><circle cx="197.38" cy="104.4" r="2.55"/><circle cx="197.38" cy="117.7" r="2.55"/><circle cx="197.38" cy="130.2" r="2.55"/><circle cx="197.38" cy="142.6" r="2.55"/><circle cx="208.2" cy="36.7" r="2.55"/><circle cx="208.2" cy="49.2" r="2.55"/><circle cx="208.2" cy="61" r="2.55"/><circle cx="208.2" cy="74.3" r="2.55"/><circle cx="208.2" cy="86.2" r="2.55"/><circle cx="208.2" cy="97" r="2.55"/><circle cx="208.2" cy="111.7" r="2.55"/><circle cx="208.2" cy="124.3" r="2.55"/><circle cx="208.2" cy="135.7" r="2.55"/><circle cx="219.02" cy="43" r="2.55"/><circle cx="219.02" cy="55.5" r="2.55"/><circle cx="219.02" cy="68.3" r="2.55"/><circle cx="219.02" cy="80" r="2.55"/><circle cx="219.02" cy="90.8" r="2.55"/><circle cx="219.02" cy="104.4" r="2.55"/><circle cx="219.02" cy="118.6" r="2.55"/><circle cx="219.02" cy="131" r="2.55"/><circle cx="219.02" cy="143.5" r="2.55"/><circle cx="229.84" cy="36.8" r="2.55"/><circle cx="229.84" cy="49.3" r="2.0" fill="#fff" stroke="#000" stroke-width="1.0"/><circle cx="229.84" cy="63" r="2.0" fill="#fff" stroke="#000" stroke-width="1.0"/><circle cx="229.84" cy="73.3" r="2.0" fill="#fff" stroke="#000" stroke-width="1.0"/><circle cx="229.84" cy="86.4" r="2.0" fill="#fff" stroke="#000" stroke-width="1.0"/><circle cx="229.84" cy="99.4" r="2.0" fill="#fff" stroke="#000" stroke-width="1.0"/><circle cx="229.84" cy="112" r="2.55"/><circle cx="229.84" cy="124.5" r="2.55"/><circle cx="229.84" cy="137" r="2.55"/><circle cx="240.66" cy="43" r="2.55"/><circle cx="240.66" cy="55.5" r="2.55"/><circle cx="240.66" cy="68.3" r="2.55"/><circle cx="240.66" cy="80" r="2.55"/><circle cx="240.66" cy="93.5" r="2.55"/><circle cx="240.66" cy="106.5" r="2.55"/><circle cx="240.66" cy="118.6" r="2.55"/><circle cx="240.66" cy="131" r="2.55"/><circle cx="240.66" cy="143.5" r="2.55"/><circle cx="251.48" cy="34" r="2.55"/><circle cx="251.48" cy="46.5" r="2.55"/><circle cx="251.48" cy="60.5" r="2.55"/><circle cx="251.48" cy="72.9" r="2.55"/><circle cx="251.48" cy="85.6" r="2.55"/><circle cx="251.48" cy="99" r="2.55"/><circle cx="251.48" cy="110.5" r="2.55"/><circle cx="251.48" cy="121.3" r="2.55"/><circle cx="251.48" cy="133.8" r="2.55"/><circle cx="262.3" cy="43.2" r="2.55"/><circle cx="262.3" cy="55.7" r="2.55"/><circle cx="262.3" cy="67.4" r="2.55"/><circle cx="262.3" cy="80.8" r="2.55"/><circle cx="262.3" cy="93.5" r="2.55"/><circle cx="262.3" cy="104.4" r="2.55"/><circle cx="262.3" cy="117.7" r="2.55"/><circle cx="262.3" cy="130.2" r="2.55"/><circle cx="262.3" cy="142.6" r="2.55"/><circle cx="273.12" cy="36.7" r="2.55"/><circle cx="273.12" cy="49.2" r="2.55"/><circle cx="273.12" cy="61" r="2.55"/><circle cx="273.12" cy="74.3" r="2.55"/><circle cx="273.12" cy="86.2" r="2.55"/><circle cx="273.12" cy="97" r="2.55"/><circle cx="273.12" cy="111.7" r="2.55"/><circle cx="273.12" cy="124.3" r="2.55"/><circle cx="273.12" cy="135.7" r="2.55"/><circle cx="283.94" cy="43" r="2.55"/><circle cx="283.94" cy="55.5" r="2.55"/><circle cx="283.94" cy="68.3" r="2.55"/><circle cx="283.94" cy="80" r="2.55"/><circle cx="283.94" cy="90.8" r="2.55"/><circle cx="283.94" cy="104.4" r="2.55"/><circle cx="283.94" cy="118.6" r="2.55"/><circle cx="283.94" cy="131" r="2.55"/><circle cx="283.94" cy="143.5" r="2.55"/><circle cx="294.76" cy="36.8" r="2.55"/><circle cx="294.76" cy="49.3" r="2.0" fill="#fff" stroke="#000" stroke-width="1.0"/><circle cx="294.76" cy="63" r="2.0" fill="#fff" stroke="#000" stroke-width="1.0"/><circle cx="294.76" cy="73.3" r="2.0" fill="#fff" stroke="#000" stroke-width="1.0"/><circle cx="294.76" cy="86.4" r="2.0" fill="#fff" stroke="#000" stroke-width="1.0"/><circle cx="294.76" cy="99.4" r="2.0" fill="#fff" stroke="#000" stroke-width="1.0"/><circle cx="294.76" cy="112" r="2.55"/><circle cx="294.76" cy="124.5" r="2.55"/><circle cx="294.76" cy="137" r="2.55"/><circle cx="305.58" cy="43" r="2.55"/><circle cx="305.58" cy="55.5" r="2.55"/><circle cx="305.58" cy="68.3" r="2.55"/><circle cx="305.58" cy="80" r="2.55"/><circle cx="305.58" cy="93.5" r="2.55"/><circle cx="305.58" cy="106.5" r="2.55"/><circle cx="305.58" cy="118.6" r="2.55"/><circle cx="305.58" cy="131" r="2.55"/><circle cx="305.58" cy="143.5" r="2.55"/><circle cx="316.4" cy="34" r="2.55"/><circle cx="316.4" cy="46.5" r="2.55"/><circle cx="316.4" cy="60.5" r="2.55"/><circle cx="316.4" cy="72.9" r="2.55"/><circle cx="316.4" cy="85.6" r="2.55"/><circle cx="316.4" cy="99" r="2.55"/><circle cx="316.4" cy="110.5" r="2.55"/><circle cx="316.4" cy="121.3" r="2.55"/><circle cx="316.4" cy="133.8" r="2.55"/><circle cx="327.22" cy="43.2" r="2.55"/><circle cx="327.22" cy="55.7" r="2.55"/><circle cx="327.22" cy="67.4" r="2.55"/><circle cx="327.22" cy="80.8" r="2.55"/><circle cx="327.22" cy="93.5" r="2.55"/><circle cx="327.22" cy="104.4" r="2.55"/><circle cx="327.22" cy="117.7" r="2.55"/><circle cx="327.22" cy="130.2" r="2.55"/><circle cx="327.22" cy="142.6" r="2.55"/><circle cx="338.04" cy="36.7" r="2.55"/><circle cx="338.04" cy="49.2" r="2.55"/><circle cx="338.04" cy="61" r="2.55"/><circle cx="338.04" cy="74.3" r="2.55"/><circle cx="338.04" cy="86.2" r="2.55"/><circle cx="338.04" cy="97" r="2.55"/><circle cx="338.04" cy="111.7" r="2.55"/><circle cx="338.04" cy="124.3" r="2.55"/><circle cx="338.04" cy="135.7" r="2.55"/><circle cx="348.86" cy="43" r="2.55"/><circle cx="348.86" cy="55.5" r="2.55"/><circle cx="348.86" cy="68.3" r="2.55"/><circle cx="348.86" cy="80" r="2.55"/><circle cx="348.86" cy="90.8" r="2.55"/><circle cx="348.86" cy="104.4" r="2.55"/><circle cx="348.86" cy="118.6" r="2.55"/><circle cx="348.86" cy="131" r="2.55"/><circle cx="348.86" cy="143.5" r="2.55"/><circle cx="359.68" cy="36.8" r="2.55"/><circle cx="359.68" cy="49.3" r="2.0" fill="#fff" stroke="#000" stroke-width="1.0"/><circle cx="359.68" cy="63" r="2.0" fill="#fff" stroke="#000" stroke-width="1.0"/><circle cx="359.68" cy="73.3" r="2.0" fill="#fff" stroke="#000" stroke-width="1.0"/><circle cx="359.68" cy="86.4" r="2.0" fill="#fff" stroke="#000" stroke-width="1.0"/><circle cx="359.68" cy="99.4" r="2.0" fill="#fff" stroke="#000" stroke-width="1.0"/><circle cx="359.68" cy="112" r="2.55"/><circle cx="359.68" cy="124.5" r="2.55"/><circle cx="359.68" cy="137" r="2.55"/><circle cx="370.5" cy="43" r="2.55"/><circle cx="370.5" cy="55.5" r="2.55"/><circle cx="370.5" cy="68.3" r="2.55"/><circle cx="370.5" cy="80" r="2.55"/><circle cx="370.5" cy="93.5" r="2.55"/><circle cx="370.5" cy="106.5" r="2.55"/><circle cx="370.5" cy="118.6" r="2.55"/><circle cx="370.5" cy="131" r="2.55"/><circle cx="370.5" cy="143.5" r="2.55"/><circle cx="381.32" cy="34" r="2.55"/><circle cx="381.32" cy="46.5" r="2.55"/><circle cx="381.32" cy="60.5" r="2.55"/><circle cx="381.32" cy="72.9" r="2.55"/><circle cx="381.32" cy="85.6" r="2.55"/><circle cx="381.32" cy="99" r="2.55"/><circle cx="381.32" cy="110.5" r="2.55"/><circle cx="381.32" cy="121.3" r="2.55"/><circle cx="381.32" cy="133.8" r="2.55"/><circle cx="392.14" cy="43.2" r="2.55"/><circle cx="392.14" cy="55.7" r="2.55"/><circle cx="392.14" cy="67.4" r="2.55"/><circle cx="392.14" cy="80.8" r="2.55"/><circle cx="392.14" cy="93.5" r="2.55"/><circle cx="392.14" cy="104.4" r="2.55"/><circle cx="392.14" cy="117.7" r="2.55"/><circle cx="392.14" cy="130.2" r="2.55"/><circle cx="392.14" cy="142.6" r="2.55"/><circle cx="402.96" cy="36.7" r="2.55"/><circle cx="402.96" cy="49.2" r="2.55"/><circle cx="402.96" cy="61" r="2.55"/><circle cx="402.96" cy="74.3" r="2.55"/><circle cx="402.96" cy="86.2" r="2.55"/><circle cx="402.96" cy="97" r="2.55"/><circle cx="402.96" cy="111.7" r="2.55"/><circle cx="402.96" cy="124.3" r="2.55"/><circle cx="402.96" cy="135.7" r="2.55"/><circle cx="413.78" cy="43" r="2.55"/><circle cx="413.78" cy="55.5" r="2.55"/><circle cx="413.78" cy="68.3" r="2.55"/><circle cx="413.78" cy="80" r="2.55"/><circle cx="413.78" cy="90.8" r="2.55"/><circle cx="413.78" cy="104.4" r="2.55"/><circle cx="413.78" cy="118.6" r="2.55"/><circle cx="413.78" cy="131" r="2.55"/><circle cx="413.78" cy="143.5" r="2.55"/><circle cx="424.6" cy="36.8" r="2.55"/><circle cx="424.6" cy="49.3" r="2.0" fill="#fff" stroke="#000" stroke-width="1.0"/><circle cx="424.6" cy="63" r="2.0" fill="#fff" stroke="#000" stroke-width="1.0"/><circle cx="424.6" cy="73.3" r="2.0" fill="#fff" stroke="#000" stroke-width="1.0"/><circle cx="424.6" cy="86.4" r="2.0" fill="#fff" stroke="#000" stroke-width="1.0"/><circle cx="424.6" cy="99.4" r="2.0" fill="#fff" stroke="#000" stroke-width="1.0"/><circle cx="424.6" cy="112" r="2.55"/><circle cx="424.6" cy="124.5" r="2.55"/><circle cx="424.6" cy="137" r="2.55"/><circle cx="435.42" cy="43" r="2.55"/><circle cx="435.42" cy="55.5" r="2.55"/><circle cx="435.42" cy="68.3" r="2.55"/><circle cx="435.42" cy="80" r="2.55"/><circle cx="435.42" cy="93.5" r="2.55"/><circle cx="435.42" cy="106.5" r="2.55"/><circle cx="435.42" cy="118.6" r="2.55"/><circle cx="435.42" cy="131" r="2.55"/><circle cx="435.42" cy="143.5" r="2.55"/><circle cx="446.24" cy="34" r="2.55"/><circle cx="446.24" cy="46.5" r="2.55"/><circle cx="446.24" cy="60.5" r="2.55"/><circle cx="446.24" cy="72.9" r="2.55"/><circle cx="446.24" cy="85.6" r="2.55"/><circle cx="446.24" cy="99" r="2.55"/><circle cx="446.24" cy="110.5" r="2.55"/><circle cx="446.24" cy="121.3" r="2.55"/><circle cx="446.24" cy="133.8" r="2.55"/><circle cx="457.06" cy="43.2" r="2.55"/><circle cx="457.06" cy="55.7" r="2.55"/><circle cx="457.06" cy="67.4" r="2.55"/><circle cx="457.06" cy="80.8" r="2.55"/><circle cx="457.06" cy="93.5" r="2.55"/><circle cx="457.06" cy="104.4" r="2.55"/><circle cx="457.06" cy="117.7" r="2.55"/><circle cx="457.06" cy="130.2" r="2.55"/><circle cx="457.06" cy="142.6" r="2.55"/><circle cx="467.88" cy="36.7" r="2.55"/><circle cx="467.88" cy="49.2" r="2.55"/><circle cx="467.88" cy="61" r="2.55"/><circle cx="467.88" cy="74.3" r="2.55"/><circle cx="467.88" cy="86.2" r="2.55"/><circle cx="467.88" cy="97" r="2.55"/><circle cx="467.88" cy="111.7" r="2.55"/><circle cx="467.88" cy="124.3" r="2.55"/><circle cx="467.88" cy="135.7" r="2.55"/><circle cx="478.7" cy="43" r="2.55"/><circle cx="478.7" cy="55.5" r="2.55"/><circle cx="478.7" cy="68.3" r="2.55"/><circle cx="478.7" cy="80" r="2.55"/><circle cx="478.7" cy="90.8" r="2.55"/><circle cx="478.7" cy="104.4" r="2.55"/><circle cx="478.7" cy="118.6" r="2.55"/><circle cx="478.7" cy="131" r="2.55"/><circle cx="478.7" cy="143.5" r="2.55"/><circle cx="489.52" cy="36.8" r="2.55"/><circle cx="489.52" cy="49.3" r="2.0" fill="#fff" stroke="#000" stroke-width="1.0"/><circle cx="489.52" cy="63" r="2.0" fill="#fff" stroke="#000" stroke-width="1.0"/><circle cx="489.52" cy="73.3" r="2.0" fill="#fff" stroke="#000" stroke-width="1.0"/><circle cx="489.52" cy="86.4" r="2.0" fill="#fff" stroke="#000" stroke-width="1.0"/><circle cx="489.52" cy="99.4" r="2.0" fill="#fff" stroke="#000" stroke-width="1.0"/><circle cx="489.52" cy="112" r="2.55"/><circle cx="489.52" cy="124.5" r="2.55"/><circle cx="489.52" cy="137" r="2.55"/><circle cx="500.34" cy="43" r="2.55"/><circle cx="500.34" cy="55.5" r="2.55"/><circle cx="500.34" cy="68.3" r="2.55"/><circle cx="500.34" cy="80" r="2.55"/><circle cx="500.34" cy="93.5" r="2.55"/><circle cx="500.34" cy="106.5" r="2.55"/><circle cx="500.34" cy="118.6" r="2.55"/><circle cx="500.34" cy="131" r="2.55"/><circle cx="500.34" cy="143.5" r="2.55"/><circle cx="511.16" cy="34" r="2.55"/><circle cx="511.16" cy="46.5" r="2.55"/><circle cx="511.16" cy="60.5" r="2.55"/><circle cx="511.16" cy="72.9" r="2.55"/><circle cx="511.16" cy="85.6" r="2.55"/><circle cx="511.16" cy="99" r="2.55"/><circle cx="511.16" cy="110.5" r="2.55"/><circle cx="511.16" cy="121.3" r="2.55"/><circle cx="511.16" cy="133.8" r="2.55"/><circle cx="521.98" cy="43.2" r="2.55"/><circle cx="521.98" cy="55.7" r="2.55"/><circle cx="521.98" cy="67.4" r="2.55"/><circle cx="521.98" cy="80.8" r="2.55"/><circle cx="521.98" cy="93.5" r="2.55"/><circle cx="521.98" cy="104.4" r="2.55"/><circle cx="521.98" cy="117.7" r="2.55"/><circle cx="521.98" cy="130.2" r="2.55"/><circle cx="521.98" cy="142.6" r="2.55"/><circle cx="532.8" cy="36.7" r="2.55"/><circle cx="532.8" cy="49.2" r="2.55"/><circle cx="532.8" cy="61" r="2.55"/><circle cx="532.8" cy="74.3" r="2.55"/><circle cx="532.8" cy="86.2" r="2.55"/><circle cx="532.8" cy="97" r="2.55"/><circle cx="532.8" cy="111.7" r="2.55"/><circle cx="532.8" cy="124.3" r="2.55"/><circle cx="532.8" cy="135.7" r="2.55"/><circle cx="543.62" cy="43" r="2.55"/><circle cx="543.62" cy="55.5" r="2.55"/><circle cx="543.62" cy="68.3" r="2.55"/><circle cx="543.62" cy="80" r="2.55"/><circle cx="543.62" cy="90.8" r="2.55"/><circle cx="543.62" cy="104.4" r="2.55"/><circle cx="543.62" cy="118.6" r="2.55"/><circle cx="543.62" cy="131" r="2.55"/><circle cx="543.62" cy="143.5" r="2.55"/><circle cx="554.44" cy="36.8" r="2.55"/><circle cx="554.44" cy="49.3" r="2.0" fill="#fff" stroke="#000" stroke-width="1.0"/><circle cx="554.44" cy="63" r="2.0" fill="#fff" stroke="#000" stroke-width="1.0"/><circle cx="554.44" cy="73.3" r="2.0" fill="#fff" stroke="#000" stroke-width="1.0"/><circle cx="554.44" cy="86.4" r="2.0" fill="#fff" stroke="#000" stroke-width="1.0"/><circle cx="554.44" cy="99.4" r="2.0" fill="#fff" stroke="#000" stroke-width="1.0"/><circle cx="554.44" cy="112" r="2.55"/><circle cx="554.44" cy="124.5" r="2.55"/><circle cx="554.44" cy="137" r="2.55"/><circle cx="565.26" cy="43" r="2.55"/><circle cx="565.26" cy="55.5" r="2.55"/><circle cx="565.26" cy="68.3" r="2.55"/><circle cx="565.26" cy="80" r="2.55"/><circle cx="565.26" cy="93.5" r="2.55"/><circle cx="565.26" cy="106.5" r="2.55"/><circle cx="565.26" cy="118.6" r="2.55"/><circle cx="565.26" cy="131" r="2.55"/><circle cx="565.26" cy="143.5" r="2.55"/><circle cx="576.08" cy="34" r="2.55"/><circle cx="576.08" cy="46.5" r="2.55"/><circle cx="576.08" cy="60.5" r="2.55"/><circle cx="576.08" cy="72.9" r="2.55"/><circle cx="576.08" cy="85.6" r="2.55"/><circle cx="576.08" cy="99" r="2.55"/><circle cx="576.08" cy="110.5" r="2.55"/><circle cx="576.08" cy="121.3" r="2.55"/><circle cx="576.08" cy="133.8" r="2.55"/><circle cx="586.9" cy="43.2" r="2.55"/><circle cx="586.9" cy="55.7" r="2.55"/><circle cx="586.9" cy="67.4" r="2.55"/><circle cx="586.9" cy="80.8" r="2.55"/><circle cx="586.9" cy="93.5" r="2.55"/><circle cx="586.9" cy="104.4" r="2.55"/><circle cx="586.9" cy="117.7" r="2.55"/><circle cx="586.9" cy="130.2" r="2.55"/><circle cx="586.9" cy="142.6" r="2.55"/><circle cx="597.72" cy="36.7" r="2.55"/><circle cx="597.72" cy="49.2" r="2.55"/><circle cx="597.72" cy="61" r="2.55"/><circle cx="597.72" cy="74.3" r="2.55"/><circle cx="597.72" cy="86.2" r="2.55"/><circle cx="597.72" cy="97" r="2.55"/><circle cx="597.72" cy="111.7" r="2.55"/><circle cx="597.72" cy="124.3" r="2.55"/><circle cx="597.72" cy="135.7" r="2.55"/><circle cx="608.54" cy="43" r="2.55"/><circle cx="608.54" cy="55.5" r="2.55"/><circle cx="608.54" cy="68.3" r="2.55"/><circle cx="608.54" cy="80" r="2.55"/><circle cx="608.54" cy="90.8" r="2.55"/><circle cx="608.54" cy="104.4" r="2.55"/><circle cx="608.54" cy="118.6" r="2.55"/><circle cx="608.54" cy="131" r="2.55"/><circle cx="608.54" cy="143.5" r="2.55"/><circle cx="619.36" cy="36.8" r="2.55"/><circle cx="619.36" cy="49.3" r="2.0" fill="#fff" stroke="#000" stroke-width="1.0"/><circle cx="619.36" cy="63" r="2.0" fill="#fff" stroke="#000" stroke-width="1.0"/><circle cx="619.36" cy="73.3" r="2.0" fill="#fff" stroke="#000" stroke-width="1.0"/><circle cx="619.36" cy="86.4" r="2.0" fill="#fff" stroke="#000" stroke-width="1.0"/><circle cx="619.36" cy="99.4" r="2.0" fill="#fff" stroke="#000" stroke-width="1.0"/><circle cx="619.36" cy="112" r="2.55"/><circle cx="619.36" cy="124.5" r="2.55"/><circle cx="619.36" cy="137" r="2.55"/><circle cx="630.18" cy="43" r="2.55"/><circle cx="630.18" cy="55.5" r="2.55"/><circle cx="630.18" cy="68.3" r="2.55"/><circle cx="630.18" cy="80" r="2.55"/><circle cx="630.18" cy="93.5" r="2.55"/><circle cx="630.18" cy="106.5" r="2.55"/><circle cx="630.18" cy="118.6" r="2.55"/><circle cx="630.18" cy="131" r="2.55"/><circle cx="630.18" cy="143.5" r="2.55"/><circle cx="641" cy="34" r="2.55"/><circle cx="641" cy="46.5" r="2.55"/><circle cx="641" cy="60.5" r="2.55"/><circle cx="641" cy="72.9" r="2.55"/><circle cx="641" cy="85.6" r="2.55"/><circle cx="641" cy="99" r="2.55"/><circle cx="641" cy="110.5" r="2.55"/><circle cx="641" cy="121.3" r="2.55"/><circle cx="641" cy="133.8" r="2.55"/><circle cx="651.82" cy="43.2" r="2.55"/><circle cx="651.82" cy="55.7" r="2.55"/><circle cx="651.82" cy="67.4" r="2.55"/><circle cx="651.82" cy="80.8" r="2.55"/><circle cx="651.82" cy="93.5" r="2.55"/><circle cx="651.82" cy="104.4" r="2.55"/><circle cx="651.82" cy="117.7" r="2.55"/><circle cx="651.82" cy="130.2" r="2.55"/><circle cx="651.82" cy="142.6" r="2.55"/></g>
<path d="M55.7 42.6V514.6M84.2 42.6V514.6M84.2 42.6V514.6M112.7 42.6V514.6M112.7 42.6V514.6M141.2 42.6V514.6M141.2 42.6V514.6M169.7 42.6V514.6M169.7 42.6V514.6M198.2 42.6V514.6M198.2 42.6V514.6M226.7 42.6V514.6M226.7 42.6V514.6M255.2 42.6V514.6M255.2 42.6V514.6M283.7 42.6V514.6M283.7 42.6V514.6M312.2 42.6V514.6M312.2 42.6V514.6M340.7 42.6V514.6M340.7 42.6V514.6M369.2 42.6V514.6M369.2 42.6V514.6M397.7 42.6V514.6M397.7 42.6V514.6M426.2 42.6V514.6M426.2 42.6V514.6M454.7 42.6V514.6M454.7 42.6V514.6M483.2 42.6V514.6M483.2 42.6V514.6M511.7 42.6V514.6M511.7 42.6V514.6M540.2 42.6V514.6M568.7 42.6V514.6M597.2 42.6V514.6M597.2 42.6V514.6M625.7 42.6V514.6M625.7 42.6V514.6M654.2 42.6V514.6" fill="none" stroke="#000" stroke-width="1.85" stroke-linecap="square"/>
<path d="M55.7 42.6H84.2M55.7 110.1H84.2M55.7 312.6H84.2M55.7 514.6H84.2M84.2 42.6H112.7M84.2 121.5H112.7M84.2 136.8H112.7M84.2 215.5H112.7M84.2 341.2H112.7M84.2 514.6H112.7M112.7 42.6H141.2M112.7 81.4H141.2M112.7 109.9H141.2M112.7 174.5H141.2M112.7 240.9H141.2M112.7 514.6H141.2M141.2 42.6H169.7M141.2 72.7H169.7M141.2 95.2H169.7M141.2 158.7H169.7M141.2 219.9H169.7M141.2 514.6H169.7M169.7 42.6H198.2M169.7 71.8H198.2M169.7 83.4H198.2M169.7 142.6H198.2M169.7 203H198.2M169.7 513.7H198.2M198.2 42.6H226.7M198.2 70H226.7M198.2 83.6H226.7M198.2 140.8H226.7M198.2 196H226.7M198.2 513.7H226.7M226.7 42.6H255.2M226.7 75.5H255.2M226.7 93H255.2M226.7 153.2H255.2M226.7 212.8H255.2M226.7 514.6H255.2M255.2 42.6H283.7M255.2 84.3H283.7M255.2 107.3H283.7M255.2 155H283.7M255.2 214.6H283.7M255.2 514.6H283.7M283.7 42.6H312.2M283.7 90.2H312.2M283.7 121.9H312.2M283.7 189.9H312.2M283.7 253.4H312.2M283.7 514.6H312.2M312.2 42.6H340.7M312.2 92H340.7M312.2 121.2H340.7M312.2 198.1H340.7M312.2 263.9H340.7M312.2 513.7H340.7M340.7 42.6H369.2M340.7 91.5H369.2M340.7 115.4H369.2M340.7 189.2H369.2M340.7 254.4H369.2M340.7 514.6H369.2M369.2 42.6H397.7M369.2 133.1H397.7M369.2 172.9H397.7M369.2 260.6H397.7M369.2 380.4H397.7M369.2 514.6H397.7M397.7 42.6H426.2M397.7 119.3H426.2M397.7 141.6H426.2M397.7 218.8H426.2M397.7 251.8H426.2M397.7 514.6H426.2M426.2 42.6H454.7M426.2 91.5H454.7M426.2 112.7H454.7M426.2 210H454.7M426.2 253.4H454.7M426.2 514.6H454.7M454.7 42.6H483.2M454.7 106.6H483.2M454.7 135.3H483.2M454.7 256.5H483.2M454.7 302.4H483.2M454.7 514.6H483.2M483.2 42.6H511.7M483.2 101.8H511.7M483.2 132.9H511.7M483.2 253.7H511.7M483.2 301.9H511.7M483.2 514.6H511.7M511.7 42.6H540.2M511.7 136.8H540.2M511.7 182.5H540.2M511.7 337.9H540.2M511.7 418.2H540.2M511.7 514.6H540.2M568.7 42.6H597.2M568.7 81.6H597.2M568.7 112.1H597.2M568.7 150.6H597.2M568.7 329.3H597.2M568.7 514.6H597.2M597.2 42.6H625.7M597.2 81.6H625.7M597.2 104.6H625.7M597.2 168.1H625.7M597.2 230.1H625.7M597.2 514.6H625.7M625.7 42.6H654.2M625.7 100H654.2M625.7 127.4H654.2M625.7 240.7H654.2M625.7 286.1H654.2M625.7 514.6H654.2" fill="none" stroke="#000" stroke-width="1.9" stroke-linecap="butt"/>
<path d="M169.7 515.3H198.2M198.2 515.3H226.7M312.2 515.3H340.7M52 515.3H55.7M52 397.3H55.7M52 279.3H55.7M52 161.3H55.7M52 43.3H55.7M55.7 514.6V519.6M84.2 514.6V519.6M112.7 514.6V519.6M141.2 514.6V519.6M169.7 514.6V519.6M198.2 514.6V519.6M226.7 514.6V519.6M255.2 514.6V519.6M283.7 514.6V519.6M312.2 514.6V519.6M340.7 514.6V519.6M369.2 514.6V519.6M397.7 514.6V519.6M426.2 514.6V519.6M454.7 514.6V519.6M483.2 514.6V519.6M511.7 514.6V519.6M540.2 514.6V519.6M568.7 514.6V519.6M597.2 514.6V519.6M625.7 514.6V519.6M654.2 514.6V519.6" fill="none" stroke="#777" stroke-width="0.8"/>
<text transform="translate(48.6 519.9) scale(1.05 1)" font-size="16" text-anchor="end" fill="#111">0%</text>
<text transform="translate(50.5 401.9) scale(1.05 1)" font-size="16" text-anchor="end" fill="#111">25%</text>
<text transform="translate(50.5 283.9) scale(1.05 1)" font-size="16" text-anchor="end" fill="#111">50%</text>
<text transform="translate(50.5 165.9) scale(1.05 1)" font-size="16" text-anchor="end" fill="#111">75%</text>
<text transform="translate(52.0 47.9) scale(1.05 1)" font-size="16" text-anchor="end" fill="#111">100%</text>
<text transform="translate(70.15 522.5) rotate(-90) scale(1.04 1)" font-size="16" font-style="italic" text-anchor="end" fill="#111">S. cerevisiae</text>
<text transform="translate(99.09 522.5) rotate(-90) scale(1.04 1)" font-size="16" font-style="italic" text-anchor="end" fill="#111">Y. lipolytica</text>
<text transform="translate(128.03 522.5) rotate(-90) scale(1.04 1)" font-size="16" font-style="italic" text-anchor="end" fill="#111">F. graminearum</text>
<text transform="translate(156.97 522.5) rotate(-90) scale(1.04 1)" font-size="16" font-style="italic" text-anchor="end" fill="#111">M. grisea</text>
<text transform="translate(185.91 522.5) rotate(-90) scale(1.04 1)" font-size="16" font-style="italic" text-anchor="end" fill="#111">P. anserina</text>
<text transform="translate(214.85 522.5) rotate(-90) scale(1.04 1)" font-size="16" font-style="italic" text-anchor="end" fill="#111">C. globosum</text>
<text transform="translate(243.79 522.5) rotate(-90) scale(1.04 1)" font-size="16" font-style="italic" text-anchor="end" fill="#111">N. crassa</text>
<text transform="translate(272.73 522.5) rotate(-90) scale(1.04 1)" font-size="16" font-style="italic" text-anchor="end" fill="#111">S. nodorum</text>
<text transform="translate(301.67 522.5) rotate(-90) scale(1.04 1)" font-size="16" font-style="italic" text-anchor="end" fill="#111">A. nidulans</text>
<text transform="translate(330.61 522.5) rotate(-90) scale(1.04 1)" font-size="16" font-style="italic" text-anchor="end" fill="#111">A. fumigatus</text>
<text transform="translate(359.55 522.5) rotate(-90) scale(1.04 1)" font-size="16" font-style="italic" text-anchor="end" fill="#111">A. terreus</text>
<text transform="translate(388.49 522.5) rotate(-90) scale(1.04 1)" font-size="16" font-style="italic" text-anchor="end" fill="#111">S. pombe</text>
<text transform="translate(417.43 522.5) rotate(-90) scale(1.04 1)" font-size="16" font-style="italic" text-anchor="end" fill="#111">U. maydis</text>
<text transform="translate(446.37 522.5) rotate(-90) scale(1.04 1)" font-size="16" font-style="italic" text-anchor="end" fill="#111">C. neoformans</text>
<text transform="translate(475.31 522.5) rotate(-90) scale(1.04 1)" font-size="16" font-style="italic" text-anchor="end" fill="#111">P. chrysosporium</text>
<text transform="translate(504.25 522.5) rotate(-90) scale(1.04 1)" font-size="16" font-style="italic" text-anchor="end" fill="#111">C. cinerea</text>
<text transform="translate(533.19 522.5) rotate(-90) scale(1.04 1)" font-size="16" font-style="italic" text-anchor="end" fill="#111">R.oryzae</text>
<text transform="translate(587.35 522.5) rotate(-90) scale(1.04 1)" font-size="16" font-style="italic" text-anchor="end" fill="#111">Hemiascomycota</text>
<text transform="translate(616.05 522.5) rotate(-90) scale(1.04 1)" font-size="16" font-style="italic" text-anchor="end" fill="#111">Euascomycota</text>
<text transform="translate(644.75 522.5) rotate(-90) scale(1.04 1)" font-size="16" font-style="italic" text-anchor="end" fill="#111">Basidiomycota</text>
<rect x="111.6" y="19.8" width="12.3" height="11.8" fill="#fff" stroke="#000" stroke-width="1.4"/><circle cx="121.9" cy="24.9" r="2.1"/><circle cx="112.2" cy="31.2" r="0.9"/><text transform="translate(128 31.5) scale(1.04 1)" font-size="16" fill="#111">A+P</text><rect x="173.8" y="19.8" width="12.3" height="11.8" fill="#43fd3a" stroke="#000" stroke-width="1.4"/><text transform="translate(190 31.5) scale(1.04 1)" font-size="16" fill="#111">Plant</text><rect x="245.5" y="19.8" width="12.3" height="11.8" fill="#fc5282" stroke="#000" stroke-width="1.4"/><text transform="translate(261.5 31.5) scale(1.04 1)" font-size="16" fill="#111">Animal</text><rect x="330.3" y="19.8" width="12.3" height="11.8" fill="url(#stip)" stroke="#000" stroke-width="1.4"/><text transform="translate(346.5 31.5) scale(1.04 1)" font-size="16" fill="#111">Fungi</text><rect x="406.3" y="19.8" width="12.3" height="11.8" fill="#c6c6fe" stroke="#000" stroke-width="1.4"/><text transform="translate(422.5 31.5) scale(1.04 1)" font-size="16" fill="#111">Clade/Species-specific</text>
</svg></body></html>
